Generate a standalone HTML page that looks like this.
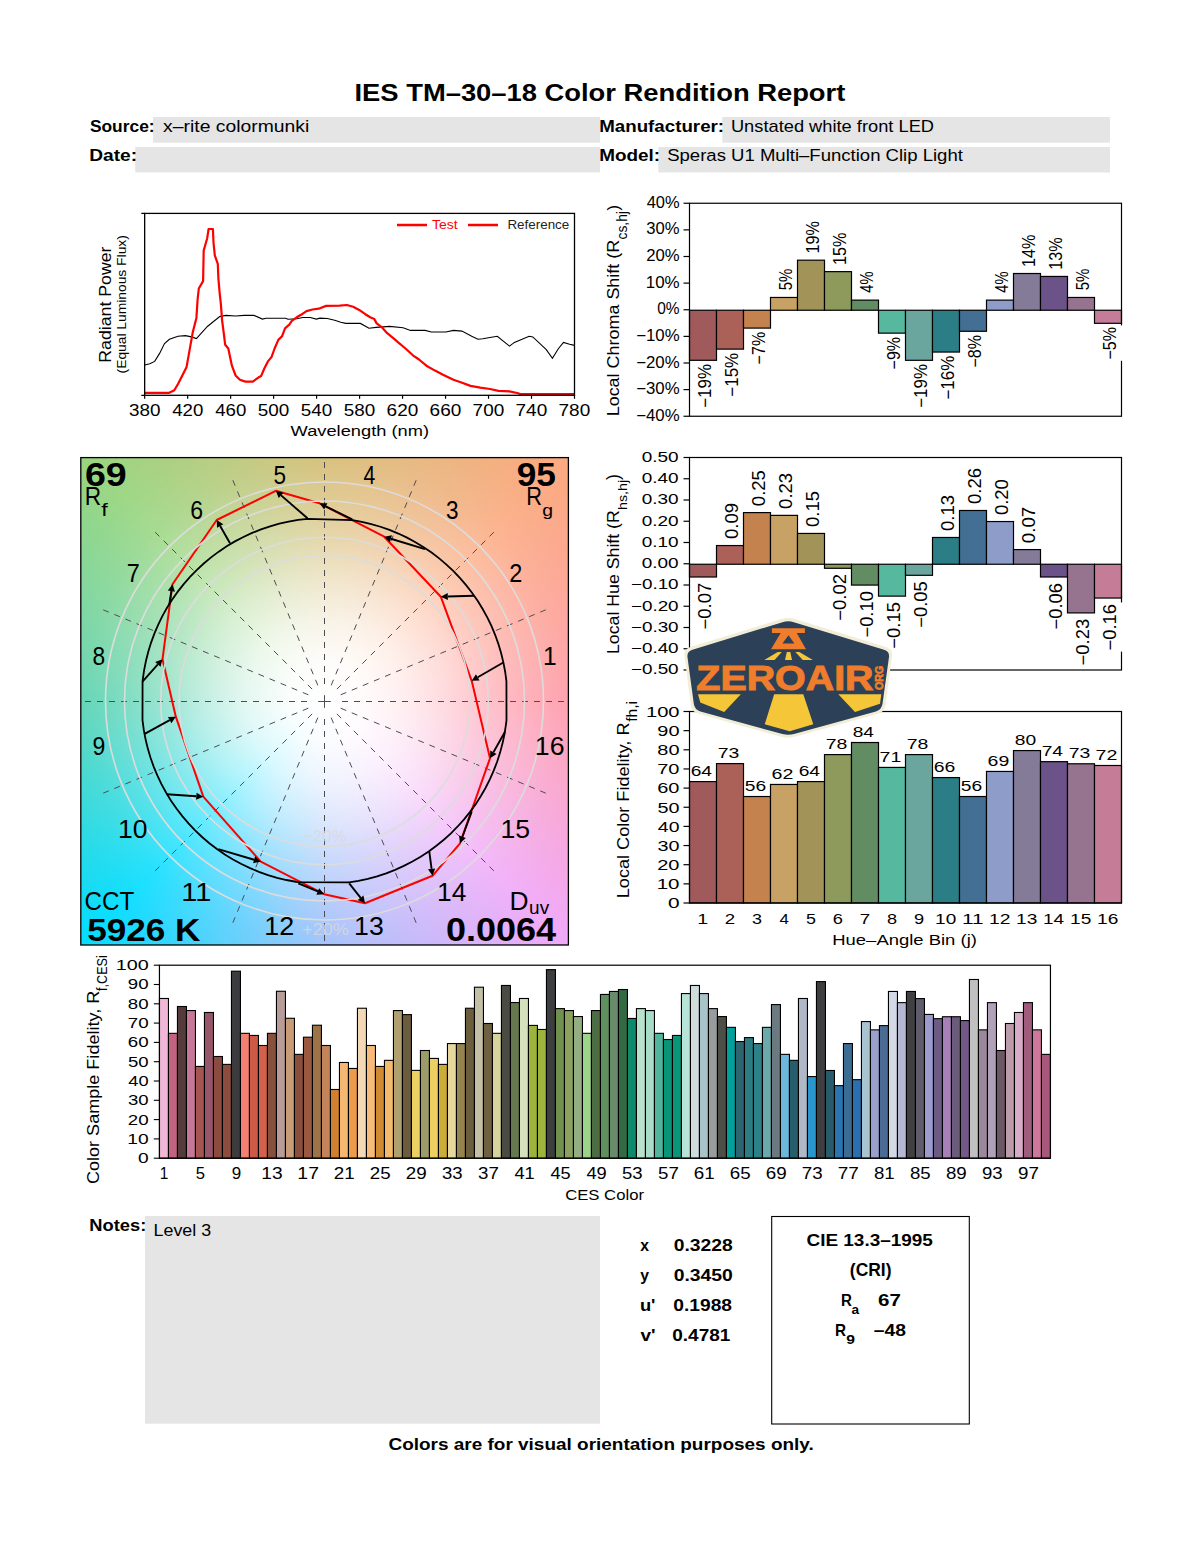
<!DOCTYPE html>
<html><head><meta charset="utf-8"><style>
html,body{margin:0;padding:0;background:#fff;width:1200px;height:1550px;overflow:hidden}
svg{position:absolute;left:0;top:0;font-family:"Liberation Sans",sans-serif}
</style></head><body>
<div style="position:absolute;left:80.8px;top:457.6px;width:487.59999999999997px;height:487.4px;background:radial-gradient(circle at 243.7px 243.39999999999998px, rgba(255,255,255,1) 0px, rgba(255,255,255,0.96) 40px, rgba(255,255,255,0.84) 80px, rgba(255,255,255,0.66) 120px, rgba(255,255,255,0.45) 160px, rgba(255,255,255,0.28) 200px, rgba(255,255,255,0.15) 240px, rgba(255,255,255,0.071) 280px, rgba(255,255,255,0.031) 320px, rgba(255,255,255,0) 370px), conic-gradient(from 90deg at 243.7px 243.39999999999998px, #ff94a3 0deg, #f0a8f8 45deg, #97bafa 90deg, #00dcff 135deg, #4dcfac 180deg, #97d57f 225deg, #d2b86a 270deg, #fba87e 315deg, #ff94a3 360deg);"></div>
<svg width="1200" height="1550" viewBox="0 0 1200 1550">
<text transform="translate(354.52,100.90) scale(1.1022,1)" style="font-size:24.83px;font-weight:bold;" fill="#000" >IES TM–30–18 Color Rendition Report</text>
<rect x="153" y="117" width="447" height="25.7" fill="#e5e5e5"/>
<rect x="135.2" y="147" width="464.8" height="25.5" fill="#e5e5e5"/>
<rect x="722.3" y="117" width="387.7" height="25.7" fill="#e5e5e5"/>
<rect x="658.3" y="147" width="451.7" height="25.5" fill="#e5e5e5"/>
<text transform="translate(89.88,131.90) scale(1.0243,1)" style="font-size:17.00px;font-weight:bold;" fill="#000" >Source:</text>
<text transform="translate(89.16,161.00) scale(1.1101,1)" style="font-size:17.25px;font-weight:bold;" fill="#000" >Date:</text>
<text transform="translate(599.18,131.90) scale(1.1417,1)" style="font-size:16.41px;font-weight:bold;" fill="#000" >Manufacturer:</text>
<text transform="translate(599.17,161.00) scale(1.1528,1)" style="font-size:16.41px;font-weight:bold;" fill="#000" >Model:</text>
<text transform="translate(163.11,131.90) scale(1.1220,1)" style="font-size:17.24px;" fill="#000" >x–rite colormunki</text>
<text transform="translate(730.93,131.90) scale(1.1138,1)" style="font-size:16.41px;" fill="#000" >Unstated white front LED</text>
<text transform="translate(667.17,161.00) scale(1.1304,1)" style="font-size:16.41px;" fill="#000" >Speras U1 Multi–Function Clip Light</text>
<polyline points="144.7,365.0 149.8,363.8 154.7,361.4 159.6,353.4 164.5,343.6 169.4,339.3 178.0,336.3 185.4,335.6 191.5,336.9 196.4,338.5 207.4,326.5 219.7,316.6 225.8,315.4 235.6,316.0 244.2,315.4 254.0,315.4 262.4,319.1 266.0,318.2 285.6,318.2 288.1,319.3 296.7,318.8 302.8,317.5 310.2,317.5 316.3,319.1 320.0,318.1 327.3,318.5 334.7,320.3 340.8,322.2 345.7,323.4 360.4,323.4 369.0,328.3 376.1,327.4 389.6,326.4 403.1,327.7 410.5,330.4 425.2,330.4 431.3,332.0 446.0,332.0 453.4,330.4 461.9,331.1 471.7,336.3 477.9,339.3 482.8,338.7 489.9,337.5 497.3,336.3 509.5,346.1 514.4,342.4 529.1,336.3 532.8,336.9 546.3,349.7 552.4,358.3 558.5,348.5 563.5,342.4 569.6,344.2 574.5,345.4" fill="none" stroke="#000" stroke-width="1.1"/>
<polyline points="144.7,392.9 168.8,392.9 174.3,390.2 178.0,384.0 181.7,376.7 186.6,366.9 189.0,353.4 192.7,332.6 196.4,317.9 197.6,299.5 198.8,288.5 203.1,281.1 203.7,250.5 207.2,238.2 208.6,229.0 212.9,229.0 213.5,242.5 214.8,255.4 217.8,263.9 218.4,278.6 219.7,293.4 220.9,304.4 222.1,320.3 224.0,335.0 225.2,344.8 228.3,348.5 231.9,365.7 235.6,375.5 239.9,379.8 245.4,381.6 252.8,381.6 258.7,377.3 261.1,376.1 264.2,368.7 267.9,361.4 271.5,357.1 274.6,348.5 278.3,339.9 282.0,336.3 285.0,328.3 289.3,324.6 291.8,320.9 296.7,317.3 301.0,314.8 306.5,311.1 312.6,309.5 318.7,308.7 326.1,305.9 339.6,305.6 346.9,305.0 353.1,306.8 359.2,309.9 365.3,314.2 370.2,317.3 374.3,319.1 376.7,323.4 382.3,327.7 387.2,333.2 393.3,338.1 398.2,342.4 405.5,348.5 412.9,355.3 419.0,359.5 426.4,365.7 435.0,370.6 443.5,374.9 453.4,379.8 460.7,382.2 470.5,385.9 480.3,387.7 490.0,389.0 498.5,390.8 509.5,391.4 518.1,393.3 519.9,394.1 574.5,394.1" fill="none" stroke="#f00" stroke-width="2.2" stroke-linejoin="round"/>
<rect x="144.66" y="213.4" width="429.84" height="181.9" fill="none" stroke="#000" stroke-width="1.3"/>
<path d="M141.3,213.4H144.66M141.3,395.3H144.66" stroke="#000" stroke-width="1.3"/>
<path d="M144.66,395.3V398.8" stroke="#000" stroke-width="1.2"/>
<text transform="translate(128.91,415.90) scale(1.1688,1)" style="font-size:16.14px;" fill="#000" >380</text>
<path d="M187.64,395.3V398.8" stroke="#000" stroke-width="1.2"/>
<text transform="translate(172.27,415.90) scale(1.1543,1)" style="font-size:16.14px;" fill="#000" >420</text>
<path d="M230.63,395.3V398.8" stroke="#000" stroke-width="1.2"/>
<text transform="translate(215.26,415.90) scale(1.1543,1)" style="font-size:16.14px;" fill="#000" >460</text>
<path d="M273.61,395.3V398.8" stroke="#000" stroke-width="1.2"/>
<text transform="translate(257.86,415.90) scale(1.1688,1)" style="font-size:16.14px;" fill="#000" >500</text>
<path d="M316.60,395.3V398.8" stroke="#000" stroke-width="1.2"/>
<text transform="translate(300.84,415.90) scale(1.1688,1)" style="font-size:16.14px;" fill="#000" >540</text>
<path d="M359.58,395.3V398.8" stroke="#000" stroke-width="1.2"/>
<text transform="translate(343.83,415.90) scale(1.1688,1)" style="font-size:16.14px;" fill="#000" >580</text>
<path d="M402.56,395.3V398.8" stroke="#000" stroke-width="1.2"/>
<text transform="translate(386.61,415.90) scale(1.1762,1)" style="font-size:16.14px;" fill="#000" >620</text>
<path d="M445.55,395.3V398.8" stroke="#000" stroke-width="1.2"/>
<text transform="translate(429.60,415.90) scale(1.1762,1)" style="font-size:16.14px;" fill="#000" >660</text>
<path d="M488.53,395.3V398.8" stroke="#000" stroke-width="1.2"/>
<text transform="translate(472.58,415.90) scale(1.1762,1)" style="font-size:16.14px;" fill="#000" >700</text>
<path d="M531.52,395.3V398.8" stroke="#000" stroke-width="1.2"/>
<text transform="translate(515.57,415.90) scale(1.1762,1)" style="font-size:16.14px;" fill="#000" >740</text>
<path d="M574.50,395.3V398.8" stroke="#000" stroke-width="1.2"/>
<text transform="translate(558.55,415.90) scale(1.1762,1)" style="font-size:16.14px;" fill="#000" >780</text>
<text transform="translate(290.61,436.00) scale(1.2050,1)" style="font-size:15.17px;" fill="#000" >Wavelength (nm)</text>
<text transform="translate(110.60,362.72) rotate(-90) scale(1.0199,1)" style="font-size:17.38px;" fill="#000" >Radiant Power</text>
<text transform="translate(126.00,373.43) rotate(-90) scale(1.1154,1)" style="font-size:12.41px;" fill="#000" >(Equal Luminous Flux)</text>
<path d="M397,225H427M468,225H498" stroke="#f00" stroke-width="2.6"/>
<text transform="translate(432.02,228.80) scale(1.0990,1)" style="font-size:12.75px;" fill="#f00" >Test</text>
<text transform="translate(507.43,228.80) scale(1.1046,1)" style="font-size:12.14px;" fill="#222" >Reference</text>
<rect x="689.50" y="310.25" width="27.0" height="50.06" fill="#a05a5c" stroke="#000" stroke-width="1.2"/>
<rect x="716.50" y="310.25" width="27.0" height="38.87" fill="#ab6058" stroke="#000" stroke-width="1.2"/>
<rect x="743.50" y="310.25" width="27.0" height="17.84" fill="#c4824e" stroke="#000" stroke-width="1.2"/>
<rect x="770.50" y="297.47" width="27.0" height="12.78" fill="#c8a264" stroke="#000" stroke-width="1.2"/>
<rect x="797.50" y="260.19" width="27.0" height="50.06" fill="#a29458" stroke="#000" stroke-width="1.2"/>
<rect x="824.50" y="271.64" width="27.0" height="38.61" fill="#8d9a5c" stroke="#000" stroke-width="1.2"/>
<rect x="851.50" y="300.13" width="27.0" height="10.12" fill="#628d62" stroke="#000" stroke-width="1.2"/>
<rect x="878.50" y="310.25" width="27.0" height="22.90" fill="#55b89f" stroke="#000" stroke-width="1.2"/>
<rect x="905.50" y="310.25" width="27.0" height="50.06" fill="#6aa69e" stroke="#000" stroke-width="1.2"/>
<rect x="932.50" y="310.25" width="27.0" height="41.80" fill="#2c7e86" stroke="#000" stroke-width="1.2"/>
<rect x="959.50" y="310.25" width="27.0" height="21.03" fill="#426f93" stroke="#000" stroke-width="1.2"/>
<rect x="986.50" y="300.13" width="27.0" height="10.12" fill="#8e9cc9" stroke="#000" stroke-width="1.2"/>
<rect x="1013.50" y="273.51" width="27.0" height="36.74" fill="#847b98" stroke="#000" stroke-width="1.2"/>
<rect x="1040.50" y="276.44" width="27.0" height="33.81" fill="#6b5289" stroke="#000" stroke-width="1.2"/>
<rect x="1067.50" y="297.47" width="27.0" height="12.78" fill="#96748f" stroke="#000" stroke-width="1.2"/>
<rect x="1094.50" y="310.25" width="27.0" height="13.05" fill="#c57c97" stroke="#000" stroke-width="1.2"/>
<rect x="689.5" y="203.25" width="432.0" height="213.0" fill="none" stroke="#000" stroke-width="1.2"/>
<path d="M683.5,203.25H689.5" stroke="#000" stroke-width="1.2"/>
<text transform="translate(646.67,207.80) scale(1.0192,1)" style="font-size:16.14px;" fill="#000" >40%</text>
<path d="M683.5,229.88H689.5" stroke="#000" stroke-width="1.2"/>
<text transform="translate(646.34,234.43) scale(1.0298,1)" style="font-size:16.14px;" fill="#000" >30%</text>
<path d="M683.5,256.50H689.5" stroke="#000" stroke-width="1.2"/>
<text transform="translate(646.16,261.05) scale(1.0351,1)" style="font-size:16.14px;" fill="#000" >20%</text>
<path d="M683.5,283.12H689.5" stroke="#000" stroke-width="1.2"/>
<text transform="translate(645.73,287.68) scale(1.0488,1)" style="font-size:16.14px;" fill="#000" >10%</text>
<path d="M683.5,309.75H689.5" stroke="#000" stroke-width="1.2"/>
<text transform="translate(657.18,314.30) scale(0.9586,1)" style="font-size:16.14px;" fill="#000" >0%</text>
<path d="M683.5,336.38H689.5" stroke="#000" stroke-width="1.2"/>
<text transform="translate(636.16,340.93) scale(1.0407,1)" style="font-size:16.14px;" fill="#000" >−10%</text>
<path d="M683.5,363.00H689.5" stroke="#000" stroke-width="1.2"/>
<text transform="translate(636.16,367.55) scale(1.0407,1)" style="font-size:16.14px;" fill="#000" >−20%</text>
<path d="M683.5,389.62H689.5" stroke="#000" stroke-width="1.2"/>
<text transform="translate(636.16,394.18) scale(1.0407,1)" style="font-size:16.14px;" fill="#000" >−30%</text>
<path d="M683.5,416.25H689.5" stroke="#000" stroke-width="1.2"/>
<text transform="translate(636.16,420.80) scale(1.0407,1)" style="font-size:16.14px;" fill="#000" >−40%</text>
<text transform="translate(711.35,407.85) rotate(-90) scale(0.9574,1)" style="font-size:17.71px;" fill="#000" >−19%</text>
<text transform="translate(738.35,396.67) rotate(-90) scale(0.9506,1)" style="font-size:17.84px;" fill="#000" >−15%</text>
<text transform="translate(765.35,364.39) rotate(-90) scale(0.8991,1)" style="font-size:17.84px;" fill="#000" >−7%</text>
<text transform="translate(792.35,290.27) rotate(-90) scale(0.8387,1)" style="font-size:17.84px;" fill="#000" >5%</text>
<text transform="translate(819.35,253.61) rotate(-90) scale(0.9170,1)" style="font-size:17.71px;" fill="#000" >19%</text>
<text transform="translate(846.35,265.06) rotate(-90) scale(0.9104,1)" style="font-size:17.84px;" fill="#000" >15%</text>
<text transform="translate(873.35,292.63) rotate(-90) scale(0.8266,1)" style="font-size:17.84px;" fill="#000" >4%</text>
<text transform="translate(900.35,369.45) rotate(-90) scale(0.9055,1)" style="font-size:17.71px;" fill="#000" >−9%</text>
<text transform="translate(927.35,407.85) rotate(-90) scale(0.9574,1)" style="font-size:17.71px;" fill="#000" >−19%</text>
<text transform="translate(954.35,399.60) rotate(-90) scale(0.9574,1)" style="font-size:17.71px;" fill="#000" >−16%</text>
<text transform="translate(981.35,367.59) rotate(-90) scale(0.9055,1)" style="font-size:17.71px;" fill="#000" >−8%</text>
<text transform="translate(1008.35,292.63) rotate(-90) scale(0.8266,1)" style="font-size:17.84px;" fill="#000" >4%</text>
<text transform="translate(1035.35,266.93) rotate(-90) scale(0.9104,1)" style="font-size:17.84px;" fill="#000" >14%</text>
<text transform="translate(1062.35,269.85) rotate(-90) scale(0.9170,1)" style="font-size:17.71px;" fill="#000" >13%</text>
<text transform="translate(1089.35,290.27) rotate(-90) scale(0.8387,1)" style="font-size:17.84px;" fill="#000" >5%</text>
<rect x="1101.15" y="325.40" width="22" height="35.40" fill="#fff"/>
<text transform="translate(1116.35,359.60) rotate(-90) scale(0.8991,1)" style="font-size:17.84px;" fill="#000" >−5%</text>
<text transform="translate(618.80,416.34) rotate(-90) scale(1.1042,1)" style="font-size:16.28px;" fill="#000" >Local Chroma Shift (R</text>
<text transform="translate(627.10,239.45) rotate(-90) scale(0.9902,1)" style="font-size:13.93px;" fill="#000" >cs,hj</text>
<text transform="translate(618.80,210.58) rotate(-90) scale(0.9708,1)" style="font-size:17.10px;" fill="#000" >)</text>
<rect x="689.50" y="564.25" width="27.0" height="12.75" fill="#a05a5c" stroke="#000" stroke-width="1.2"/>
<rect x="716.50" y="545.55" width="27.0" height="18.70" fill="#ab6058" stroke="#000" stroke-width="1.2"/>
<rect x="743.50" y="512.61" width="27.0" height="51.64" fill="#c4824e" stroke="#000" stroke-width="1.2"/>
<rect x="770.50" y="515.38" width="27.0" height="48.88" fill="#c8a264" stroke="#000" stroke-width="1.2"/>
<rect x="797.50" y="533.44" width="27.0" height="30.81" fill="#a29458" stroke="#000" stroke-width="1.2"/>
<rect x="824.50" y="564.25" width="27.0" height="4.04" fill="#8d9a5c" stroke="#000" stroke-width="1.2"/>
<rect x="851.50" y="564.25" width="27.0" height="20.83" fill="#628d62" stroke="#000" stroke-width="1.2"/>
<rect x="878.50" y="564.25" width="27.0" height="31.88" fill="#55b89f" stroke="#000" stroke-width="1.2"/>
<rect x="905.50" y="564.25" width="27.0" height="11.05" fill="#6aa69e" stroke="#000" stroke-width="1.2"/>
<rect x="932.50" y="537.48" width="27.0" height="26.77" fill="#2c7e86" stroke="#000" stroke-width="1.2"/>
<rect x="959.50" y="510.49" width="27.0" height="53.76" fill="#426f93" stroke="#000" stroke-width="1.2"/>
<rect x="986.50" y="521.54" width="27.0" height="42.71" fill="#8e9cc9" stroke="#000" stroke-width="1.2"/>
<rect x="1013.50" y="549.59" width="27.0" height="14.66" fill="#847b98" stroke="#000" stroke-width="1.2"/>
<rect x="1040.50" y="564.25" width="27.0" height="12.75" fill="#6b5289" stroke="#000" stroke-width="1.2"/>
<rect x="1067.50" y="564.25" width="27.0" height="48.66" fill="#96748f" stroke="#000" stroke-width="1.2"/>
<rect x="1094.50" y="564.25" width="27.0" height="33.79" fill="#c57c97" stroke="#000" stroke-width="1.2"/>
<rect x="689.5" y="457.5" width="432.0" height="212.5" fill="none" stroke="#000" stroke-width="1.2"/>
<path d="M683.5,457.50H689.5" stroke="#000" stroke-width="1.2"/>
<text transform="translate(641.74,461.90) scale(1.3423,1)" style="font-size:14.14px;" fill="#000" >0.50</text>
<path d="M683.5,478.75H689.5" stroke="#000" stroke-width="1.2"/>
<text transform="translate(641.74,483.15) scale(1.3423,1)" style="font-size:14.14px;" fill="#000" >0.40</text>
<path d="M683.5,500.00H689.5" stroke="#000" stroke-width="1.2"/>
<text transform="translate(641.74,504.40) scale(1.3423,1)" style="font-size:14.14px;" fill="#000" >0.30</text>
<path d="M683.5,521.25H689.5" stroke="#000" stroke-width="1.2"/>
<text transform="translate(641.74,525.65) scale(1.3423,1)" style="font-size:14.14px;" fill="#000" >0.20</text>
<path d="M683.5,542.50H689.5" stroke="#000" stroke-width="1.2"/>
<text transform="translate(641.74,546.90) scale(1.3423,1)" style="font-size:14.14px;" fill="#000" >0.10</text>
<path d="M683.5,563.75H689.5" stroke="#000" stroke-width="1.2"/>
<text transform="translate(641.74,568.15) scale(1.3423,1)" style="font-size:14.14px;" fill="#000" >0.00</text>
<path d="M683.5,585.00H689.5" stroke="#000" stroke-width="1.2"/>
<text transform="translate(630.86,589.40) scale(1.3361,1)" style="font-size:14.14px;" fill="#000" >−0.10</text>
<path d="M683.5,606.25H689.5" stroke="#000" stroke-width="1.2"/>
<text transform="translate(630.86,610.65) scale(1.3361,1)" style="font-size:14.14px;" fill="#000" >−0.20</text>
<path d="M683.5,627.50H689.5" stroke="#000" stroke-width="1.2"/>
<text transform="translate(630.86,631.90) scale(1.3361,1)" style="font-size:14.14px;" fill="#000" >−0.30</text>
<path d="M683.5,648.75H689.5" stroke="#000" stroke-width="1.2"/>
<text transform="translate(630.86,653.15) scale(1.3361,1)" style="font-size:14.14px;" fill="#000" >−0.40</text>
<path d="M683.5,670.00H689.5" stroke="#000" stroke-width="1.2"/>
<text transform="translate(630.86,674.40) scale(1.3361,1)" style="font-size:14.14px;" fill="#000" >−0.50</text>
<text transform="translate(711.35,629.53) rotate(-90) scale(1.0454,1)" style="font-size:17.71px;" fill="#000" >−0.07</text>
<text transform="translate(738.35,539.09) rotate(-90) scale(1.0501,1)" style="font-size:17.71px;" fill="#000" >0.09</text>
<text transform="translate(765.35,506.15) rotate(-90) scale(1.0473,1)" style="font-size:17.71px;" fill="#000" >0.25</text>
<text transform="translate(792.35,508.92) rotate(-90) scale(1.0473,1)" style="font-size:17.71px;" fill="#000" >0.23</text>
<text transform="translate(819.35,526.98) rotate(-90) scale(1.0473,1)" style="font-size:17.71px;" fill="#000" >0.15</text>
<text transform="translate(846.35,620.81) rotate(-90) scale(1.0454,1)" style="font-size:17.71px;" fill="#000" >−0.02</text>
<text transform="translate(873.35,637.60) rotate(-90) scale(1.0390,1)" style="font-size:17.71px;" fill="#000" >−0.10</text>
<text transform="translate(900.35,648.65) rotate(-90) scale(1.0411,1)" style="font-size:17.71px;" fill="#000" >−0.15</text>
<text transform="translate(927.35,627.82) rotate(-90) scale(1.0411,1)" style="font-size:17.71px;" fill="#000" >−0.05</text>
<text transform="translate(954.35,531.02) rotate(-90) scale(1.0473,1)" style="font-size:17.71px;" fill="#000" >0.13</text>
<text transform="translate(981.35,504.03) rotate(-90) scale(1.0473,1)" style="font-size:17.71px;" fill="#000" >0.26</text>
<text transform="translate(1008.35,515.08) rotate(-90) scale(1.0445,1)" style="font-size:17.71px;" fill="#000" >0.20</text>
<text transform="translate(1035.35,543.13) rotate(-90) scale(1.0530,1)" style="font-size:17.71px;" fill="#000" >0.07</text>
<text transform="translate(1062.35,629.52) rotate(-90) scale(1.0411,1)" style="font-size:17.71px;" fill="#000" >−0.06</text>
<text transform="translate(1089.35,665.43) rotate(-90) scale(1.0411,1)" style="font-size:17.71px;" fill="#000" >−0.23</text>
<rect x="1101.15" y="602.44" width="22" height="49.20" fill="#fff"/>
<text transform="translate(1116.35,650.56) rotate(-90) scale(1.0411,1)" style="font-size:17.71px;" fill="#000" >−0.16</text>
<text transform="translate(619.00,654.02) rotate(-90) scale(1.0715,1)" style="font-size:16.55px;" fill="#000" >Local Hue Shift (R</text>
<text transform="translate(626.90,509.89) rotate(-90) scale(1.0382,1)" style="font-size:13.66px;" fill="#000" >hs,hj</text>
<text transform="translate(619.00,479.99) rotate(-90) scale(0.9832,1)" style="font-size:17.66px;" fill="#000" >)</text>
<rect x="689.50" y="781.59" width="27.0" height="121.41" fill="#a05a5c" stroke="#000" stroke-width="1.2"/>
<rect x="716.50" y="763.59" width="27.0" height="139.41" fill="#ab6058" stroke="#000" stroke-width="1.2"/>
<rect x="743.50" y="796.53" width="27.0" height="106.47" fill="#c4824e" stroke="#000" stroke-width="1.2"/>
<rect x="770.50" y="784.46" width="27.0" height="118.54" fill="#c8a264" stroke="#000" stroke-width="1.2"/>
<rect x="797.50" y="781.59" width="27.0" height="121.41" fill="#a29458" stroke="#000" stroke-width="1.2"/>
<rect x="824.50" y="754.59" width="27.0" height="148.41" fill="#8d9a5c" stroke="#000" stroke-width="1.2"/>
<rect x="851.50" y="742.52" width="27.0" height="160.48" fill="#628d62" stroke="#000" stroke-width="1.2"/>
<rect x="878.50" y="767.42" width="27.0" height="135.58" fill="#55b89f" stroke="#000" stroke-width="1.2"/>
<rect x="905.50" y="754.59" width="27.0" height="148.41" fill="#6aa69e" stroke="#000" stroke-width="1.2"/>
<rect x="932.50" y="777.57" width="27.0" height="125.43" fill="#2c7e86" stroke="#000" stroke-width="1.2"/>
<rect x="959.50" y="796.53" width="27.0" height="106.47" fill="#426f93" stroke="#000" stroke-width="1.2"/>
<rect x="986.50" y="771.44" width="27.0" height="131.56" fill="#8e9cc9" stroke="#000" stroke-width="1.2"/>
<rect x="1013.50" y="750.57" width="27.0" height="152.43" fill="#847b98" stroke="#000" stroke-width="1.2"/>
<rect x="1040.50" y="761.67" width="27.0" height="141.33" fill="#6b5289" stroke="#000" stroke-width="1.2"/>
<rect x="1067.50" y="763.78" width="27.0" height="139.22" fill="#96748f" stroke="#000" stroke-width="1.2"/>
<rect x="1094.50" y="765.50" width="27.0" height="137.50" fill="#c57c97" stroke="#000" stroke-width="1.2"/>
<rect x="689.5" y="711.5" width="432.0" height="191.5" fill="none" stroke="#000" stroke-width="1.2"/>
<path d="M683.5,711.50H689.5" stroke="#000" stroke-width="1.2"/>
<text transform="translate(645.99,716.80) scale(1.3147,1)" style="font-size:15.29px;" fill="#000" >100</text>
<path d="M683.5,730.65H689.5" stroke="#000" stroke-width="1.2"/>
<text transform="translate(657.35,735.95) scale(1.3021,1)" style="font-size:15.29px;" fill="#000" >90</text>
<path d="M683.5,749.80H689.5" stroke="#000" stroke-width="1.2"/>
<text transform="translate(657.35,755.10) scale(1.3021,1)" style="font-size:15.29px;" fill="#000" >80</text>
<path d="M683.5,768.95H689.5" stroke="#000" stroke-width="1.2"/>
<text transform="translate(657.25,774.25) scale(1.3084,1)" style="font-size:15.29px;" fill="#000" >70</text>
<path d="M683.5,788.10H689.5" stroke="#000" stroke-width="1.2"/>
<text transform="translate(657.25,793.40) scale(1.3084,1)" style="font-size:15.29px;" fill="#000" >60</text>
<path d="M683.5,807.25H689.5" stroke="#000" stroke-width="1.2"/>
<text transform="translate(657.46,812.55) scale(1.2958,1)" style="font-size:15.29px;" fill="#000" >50</text>
<path d="M683.5,826.40H689.5" stroke="#000" stroke-width="1.2"/>
<text transform="translate(657.86,831.70) scale(1.2712,1)" style="font-size:15.29px;" fill="#000" >40</text>
<path d="M683.5,845.55H689.5" stroke="#000" stroke-width="1.2"/>
<text transform="translate(657.46,850.85) scale(1.2958,1)" style="font-size:15.29px;" fill="#000" >30</text>
<path d="M683.5,864.70H689.5" stroke="#000" stroke-width="1.2"/>
<text transform="translate(657.25,870.00) scale(1.3084,1)" style="font-size:15.29px;" fill="#000" >20</text>
<path d="M683.5,883.85H689.5" stroke="#000" stroke-width="1.2"/>
<text transform="translate(656.71,889.15) scale(1.3411,1)" style="font-size:15.29px;" fill="#000" >10</text>
<path d="M683.5,903.00H689.5" stroke="#000" stroke-width="1.2"/>
<text transform="translate(667.92,908.30) scale(1.3629,1)" style="font-size:15.29px;" fill="#000" >0</text>
<text transform="translate(690.64,775.99) scale(1.2576,1)" style="font-size:15.29px;" fill="#000" >64</text>
<text transform="translate(717.63,757.99) scale(1.2699,1)" style="font-size:15.29px;" fill="#000" >73</text>
<text transform="translate(744.83,790.93) scale(1.2576,1)" style="font-size:15.29px;" fill="#000" >56</text>
<text transform="translate(771.62,778.86) scale(1.2825,1)" style="font-size:15.29px;" fill="#000" >62</text>
<text transform="translate(798.64,775.99) scale(1.2576,1)" style="font-size:15.29px;" fill="#000" >64</text>
<text transform="translate(825.63,748.99) scale(1.2699,1)" style="font-size:15.29px;" fill="#000" >78</text>
<text transform="translate(852.74,736.92) scale(1.2515,1)" style="font-size:15.29px;" fill="#000" >84</text>
<text transform="translate(879.62,761.82) scale(1.2580,1)" style="font-size:15.51px;" fill="#000" >71</text>
<text transform="translate(906.63,748.99) scale(1.2699,1)" style="font-size:15.29px;" fill="#000" >78</text>
<text transform="translate(933.63,771.97) scale(1.2699,1)" style="font-size:15.29px;" fill="#000" >66</text>
<text transform="translate(960.83,790.93) scale(1.2576,1)" style="font-size:15.29px;" fill="#000" >56</text>
<text transform="translate(987.62,765.84) scale(1.2762,1)" style="font-size:15.29px;" fill="#000" >69</text>
<text transform="translate(1014.73,744.97) scale(1.2576,1)" style="font-size:15.29px;" fill="#000" >80</text>
<text transform="translate(1041.64,756.07) scale(1.2396,1)" style="font-size:15.51px;" fill="#000" >74</text>
<text transform="translate(1068.63,758.18) scale(1.2699,1)" style="font-size:15.29px;" fill="#000" >73</text>
<text transform="translate(1095.62,759.90) scale(1.2825,1)" style="font-size:15.29px;" fill="#000" >72</text>
<text transform="translate(697.28,923.75) scale(1.2841,1)" style="font-size:15.22px;" fill="#000" >1</text>
<text transform="translate(724.82,923.75) scale(1.2454,1)" style="font-size:15.00px;" fill="#000" >2</text>
<text transform="translate(752.03,923.75) scale(1.1930,1)" style="font-size:15.00px;" fill="#000" >3</text>
<text transform="translate(779.41,923.75) scale(1.1061,1)" style="font-size:15.22px;" fill="#000" >4</text>
<text transform="translate(806.03,923.75) scale(1.1759,1)" style="font-size:15.22px;" fill="#000" >5</text>
<text transform="translate(832.84,923.75) scale(1.2186,1)" style="font-size:15.00px;" fill="#000" >6</text>
<text transform="translate(859.82,923.75) scale(1.2276,1)" style="font-size:15.22px;" fill="#000" >7</text>
<text transform="translate(886.94,923.75) scale(1.2057,1)" style="font-size:15.00px;" fill="#000" >8</text>
<text transform="translate(913.93,923.75) scale(1.2186,1)" style="font-size:15.00px;" fill="#000" >9</text>
<text transform="translate(935.08,923.75) scale(1.2667,1)" style="font-size:15.00px;" fill="#000" >10</text>
<text transform="translate(961.94,923.75) scale(1.3646,1)" style="font-size:15.22px;" fill="#000" >11</text>
<text transform="translate(989.05,923.75) scale(1.2860,1)" style="font-size:15.00px;" fill="#000" >12</text>
<text transform="translate(1016.07,923.75) scale(1.2730,1)" style="font-size:15.00px;" fill="#000" >13</text>
<text transform="translate(1043.08,923.75) scale(1.2424,1)" style="font-size:15.22px;" fill="#000" >14</text>
<text transform="translate(1070.07,923.75) scale(1.2548,1)" style="font-size:15.22px;" fill="#000" >15</text>
<text transform="translate(1097.07,923.75) scale(1.2730,1)" style="font-size:15.00px;" fill="#000" >16</text>
<text transform="translate(832.27,945.00) scale(1.1892,1)" style="font-size:15.52px;" fill="#000" >Hue–Angle Bin (j)</text>
<text transform="translate(628.90,898.25) rotate(-90) scale(1.1326,1)" style="font-size:16.00px;" fill="#000" >Local Color Fidelity, R</text>
<text transform="translate(636.60,721.73) rotate(-90) scale(1.1198,1)" style="font-size:13.93px;" fill="#000" >fh,i</text>
<rect x="80.8" y="457.6" width="487.59999999999997" height="487.4" fill="none" stroke="#000" stroke-width="1.3"/>
<line x1="342.00" y1="701.50" x2="565.50" y2="701.50" stroke="#4f4b53" stroke-width="1.0" stroke-dasharray="6 6"/>
<line x1="340.67" y1="694.80" x2="547.15" y2="609.27" stroke="#4f4b53" stroke-width="1.0" stroke-dasharray="6 6"/>
<line x1="336.87" y1="689.13" x2="494.91" y2="531.09" stroke="#4f4b53" stroke-width="1.0" stroke-dasharray="6 6"/>
<line x1="331.20" y1="685.33" x2="416.73" y2="478.85" stroke="#4f4b53" stroke-width="1.0" stroke-dasharray="6 6"/>
<line x1="324.50" y1="684.00" x2="324.50" y2="460.50" stroke="#4f4b53" stroke-width="1.0" stroke-dasharray="6 6"/>
<line x1="317.80" y1="685.33" x2="232.27" y2="478.85" stroke="#4f4b53" stroke-width="1.0" stroke-dasharray="6 6"/>
<line x1="312.13" y1="689.13" x2="154.09" y2="531.09" stroke="#4f4b53" stroke-width="1.0" stroke-dasharray="6 6"/>
<line x1="308.33" y1="694.80" x2="101.85" y2="609.27" stroke="#4f4b53" stroke-width="1.0" stroke-dasharray="6 6"/>
<line x1="307.00" y1="701.50" x2="83.50" y2="701.50" stroke="#4f4b53" stroke-width="1.0" stroke-dasharray="6 6"/>
<line x1="308.33" y1="708.20" x2="101.85" y2="793.73" stroke="#4f4b53" stroke-width="1.0" stroke-dasharray="6 6"/>
<line x1="312.13" y1="713.87" x2="154.09" y2="871.91" stroke="#4f4b53" stroke-width="1.0" stroke-dasharray="6 6"/>
<line x1="317.80" y1="717.67" x2="232.27" y2="924.15" stroke="#4f4b53" stroke-width="1.0" stroke-dasharray="6 6"/>
<line x1="324.50" y1="719.00" x2="324.50" y2="942.50" stroke="#4f4b53" stroke-width="1.0" stroke-dasharray="6 6"/>
<line x1="331.20" y1="717.67" x2="416.73" y2="924.15" stroke="#4f4b53" stroke-width="1.0" stroke-dasharray="6 6"/>
<line x1="336.87" y1="713.87" x2="494.91" y2="871.91" stroke="#4f4b53" stroke-width="1.0" stroke-dasharray="6 6"/>
<line x1="340.67" y1="708.20" x2="547.15" y2="793.73" stroke="#4f4b53" stroke-width="1.0" stroke-dasharray="6 6"/>
<path d="M318.2,701.5H330.8M324.5,695.2V707.8" stroke="#4f4b53" stroke-width="1.0"/>
<polygon points="471.7,680.8 440.8,596.7 384.2,536.7 319.5,503.3 275.8,490.8 216.7,520 172.5,584.2 162.5,659.2 175.8,716.7 203.3,796.7 260.8,861.7 324.2,894.2 365,903.3 432.5,875.8 460,843.3 490,758.3" fill="none" stroke="#f00" stroke-width="2.0" stroke-linejoin="round"/>
<circle cx="324.5" cy="701.0" r="145.5" fill="none" stroke="#dcdcdc" stroke-width="1.6"/>
<circle cx="324.5" cy="701.0" r="163.8" fill="none" stroke="#dcdcdc" stroke-width="1.6"/>
<circle cx="324.5" cy="701.0" r="200" fill="none" stroke="#dcdcdc" stroke-width="1.6"/>
<circle cx="324.5" cy="701.0" r="219" fill="none" stroke="#dcdcdc" stroke-width="1.6"/>
<polygon points="506.50,720.13 506.43,681.24 505.15,671.74 503.37,662.33 501.10,653.02 498.34,643.84 495.12,634.82 491.42,625.98 487.26,617.35 482.66,608.95 477.63,600.80 472.17,592.92 466.31,585.34 460.07,578.08 453.45,571.15 446.48,564.58 439.17,558.38 431.55,552.58 423.63,547.18 415.45,542.20 407.01,537.66 398.35,533.56 389.48,529.93 380.44,526.76 371.25,524.07 361.92,521.87 352.50,520.15 352.18,520.11 307.60,518.78 298.08,519.92 288.64,521.55 279.30,523.67 270.08,526.28 261.01,529.37 252.12,532.92 243.42,536.94 234.94,541.41 226.71,546.32 218.75,551.65 211.08,557.39 203.72,563.52 196.69,570.03 190.01,576.90 183.70,584.11 177.78,591.63 172.25,599.46 167.15,607.57 162.47,615.93 158.24,624.53 154.47,633.34 151.16,642.33 148.33,651.48 145.98,660.77 144.12,670.17 142.75,679.65 142.57,681.24 142.50,720.13 143.75,729.63 145.50,739.05 147.74,748.36 150.46,757.55 153.65,766.58 157.32,775.43 161.45,784.08 166.02,792.50 171.02,800.67 176.45,808.56 182.28,816.17 188.50,823.45 195.10,830.40 202.05,837.00 209.33,843.22 216.94,849.05 224.83,854.48 233.00,859.48 241.42,864.05 250.07,868.18 258.92,871.85 267.95,875.04 277.14,877.76 286.45,880.00 295.87,881.75 298.40,882.13 349.02,882.35 358.48,880.82 367.84,878.79 377.09,876.28 386.19,873.29 395.12,869.82 403.86,865.90 412.38,861.52 420.66,856.70 428.68,851.45 436.41,845.79 443.83,839.74 450.93,833.30 457.68,826.50 464.07,819.36 470.07,811.90 475.68,804.13 480.87,796.07 485.63,787.76 489.95,779.21 493.81,770.44 497.22,761.48 500.14,752.36 502.59,743.10 504.55,733.72 506.02,724.25" fill="none" stroke="#000" stroke-width="1.8"/>
<line x1="503.3" y1="662.5" x2="477.76" y2="677.29" stroke="#000" stroke-width="1.9"/>
<polygon points="471.7,680.8 475.95,674.18 479.56,680.41" fill="#000"/>
<line x1="474.2" y1="595.8" x2="447.80" y2="596.51" stroke="#000" stroke-width="1.9"/>
<polygon points="440.8,596.7 447.70,592.91 447.89,600.11" fill="#000"/>
<line x1="425" y1="549.2" x2="390.89" y2="538.75" stroke="#000" stroke-width="1.9"/>
<polygon points="384.2,536.7 391.95,535.31 389.84,542.19" fill="#000"/>
<line x1="352.2" y1="519.4" x2="325.78" y2="506.39" stroke="#000" stroke-width="1.9"/>
<polygon points="319.5,503.3 327.37,503.16 324.19,509.62" fill="#000"/>
<line x1="307.5" y1="518.3" x2="281.09" y2="495.39" stroke="#000" stroke-width="1.9"/>
<polygon points="275.8,490.8 283.45,492.67 278.73,498.11" fill="#000"/>
<line x1="230" y1="543.3" x2="220.17" y2="526.08" stroke="#000" stroke-width="1.9"/>
<polygon points="216.7,520 223.30,524.29 217.04,527.86" fill="#000"/>
<line x1="169.2" y1="605" x2="171.40" y2="591.11" stroke="#000" stroke-width="1.9"/>
<polygon points="172.5,584.2 174.96,591.68 167.85,590.55" fill="#000"/>
<line x1="142.5" y1="681.7" x2="157.85" y2="664.43" stroke="#000" stroke-width="1.9"/>
<polygon points="162.5,659.2 160.54,666.82 155.16,662.04" fill="#000"/>
<line x1="144.2" y1="734.2" x2="169.68" y2="720.09" stroke="#000" stroke-width="1.9"/>
<polygon points="175.8,716.7 171.42,723.24 167.93,716.94" fill="#000"/>
<line x1="166.7" y1="794.2" x2="196.32" y2="796.22" stroke="#000" stroke-width="1.9"/>
<polygon points="203.3,796.7 196.07,799.81 196.56,792.63" fill="#000"/>
<line x1="218.3" y1="849.2" x2="254.08" y2="859.72" stroke="#000" stroke-width="1.9"/>
<polygon points="260.8,861.7 253.07,863.18 255.10,856.27" fill="#000"/>
<line x1="298.3" y1="883.3" x2="317.75" y2="891.48" stroke="#000" stroke-width="1.9"/>
<polygon points="324.2,894.2 316.35,894.80 319.14,888.17" fill="#000"/>
<line x1="349.2" y1="883.3" x2="360.66" y2="897.81" stroke="#000" stroke-width="1.9"/>
<polygon points="365,903.3 357.84,900.04 363.49,895.58" fill="#000"/>
<line x1="429.2" y1="850.8" x2="431.58" y2="868.86" stroke="#000" stroke-width="1.9"/>
<polygon points="432.5,875.8 428.01,869.33 435.15,868.39" fill="#000"/>
<line x1="471.7" y1="811.7" x2="462.43" y2="836.74" stroke="#000" stroke-width="1.9"/>
<polygon points="460,843.3 459.05,835.49 465.81,837.99" fill="#000"/>
<line x1="505" y1="731.7" x2="493.44" y2="752.20" stroke="#000" stroke-width="1.9"/>
<polygon points="490,758.3 490.30,750.43 496.57,753.97" fill="#000"/>
<text transform="translate(542.89,664.88) scale(0.9699,1)" style="font-size:25.36px;" fill="#000" >1</text>
<text transform="translate(509.21,581.97) scale(0.9407,1)" style="font-size:25.00px;" fill="#000" >2</text>
<text transform="translate(446.03,518.51) scale(0.9011,1)" style="font-size:25.00px;" fill="#000" >3</text>
<text transform="translate(363.60,484.17) scale(0.8354,1)" style="font-size:25.36px;" fill="#000" >4</text>
<text transform="translate(273.38,484.17) scale(0.8882,1)" style="font-size:25.36px;" fill="#000" >5</text>
<text transform="translate(190.22,518.51) scale(0.9204,1)" style="font-size:25.00px;" fill="#000" >6</text>
<text transform="translate(126.74,581.97) scale(0.9272,1)" style="font-size:25.36px;" fill="#000" >7</text>
<text transform="translate(92.54,664.88) scale(0.9106,1)" style="font-size:25.00px;" fill="#000" >8</text>
<text transform="translate(92.53,754.62) scale(0.9204,1)" style="font-size:25.00px;" fill="#000" >9</text>
<text transform="translate(118.02,837.53) scale(1.0600,1)" style="font-size:25.00px;" fill="#000" >10</text>
<text transform="translate(181.30,900.99) scale(1.1419,1)" style="font-size:25.36px;" fill="#000" >11</text>
<text transform="translate(264.36,935.33) scale(1.0761,1)" style="font-size:25.00px;" fill="#000" >12</text>
<text transform="translate(354.12,935.33) scale(1.0653,1)" style="font-size:25.00px;" fill="#000" >13</text>
<text transform="translate(437.05,900.99) scale(1.0397,1)" style="font-size:25.36px;" fill="#000" >14</text>
<text transform="translate(500.49,837.53) scale(1.0501,1)" style="font-size:25.36px;" fill="#000" >15</text>
<text transform="translate(534.83,754.62) scale(1.0653,1)" style="font-size:25.00px;" fill="#000" >16</text>
<text transform="translate(84.88,485.70) scale(1.1058,1)" style="font-size:34.00px;font-weight:bold;" fill="#000" >69</text>
<text transform="translate(84.68,504.80) scale(0.8946,1)" style="font-size:25.36px;" fill="#000" >R</text>
<text transform="translate(101.25,515.70) scale(1.3098,1)" style="font-size:17.86px;" fill="#000" >f</text>
<text transform="translate(516.77,485.70) scale(1.0541,1)" style="font-size:33.43px;font-weight:bold;" fill="#000" >95</text>
<text transform="translate(526.25,504.90) scale(0.8664,1)" style="font-size:25.22px;" fill="#000" >R</text>
<text transform="translate(542.23,515.75) scale(1.1431,1)" style="font-size:16.91px;" fill="#000" >g</text>
<text transform="translate(84.59,909.75) scale(0.9095,1)" style="font-size:26.64px;" fill="#000" >CCT</text>
<text transform="translate(87.15,941.25) scale(1.1113,1)" style="font-size:31.64px;font-weight:bold;" fill="#000" >5926 K</text>
<text transform="translate(509.59,910.10) scale(1.0200,1)" style="font-size:25.87px;" fill="#000" >D</text>
<text transform="translate(529.07,914.40) scale(1.0164,1)" style="font-size:18.68px;" fill="#000" >uv</text>
<text transform="translate(446.06,941.25) scale(1.1073,1)" style="font-size:32.50px;font-weight:bold;" fill="#000" >0.0064</text>
<text transform="translate(303.06,841.60) scale(1.0051,1)" style="font-size:16.71px;" fill="#d9d9d9" fill-opacity="0.75">−20%</text>
<text transform="translate(302.10,934.70) scale(1.0725,1)" style="font-size:16.86px;" fill="#d9d9d9" fill-opacity="0.8">+20%</text>
<path d="M781.51,619.05Q788.20,617.00 794.89,619.05L886.21,646.95Q892.90,649.00 891.99,655.94L885.51,705.06Q884.60,712.00 877.85,713.86L794.95,736.74Q788.20,738.60 781.45,736.74L698.45,713.86Q691.70,712.00 690.81,705.06L684.49,655.94Q683.60,649.00 690.29,646.95Z" fill="#f2edd6" />
<path d="M782.46,622.15Q788.20,620.40 793.94,622.15L884.06,649.65Q889.80,651.40 888.98,657.34L882.52,703.86Q881.70,709.80 875.92,711.40L793.98,734.00Q788.20,735.60 782.42,734.01L700.38,711.39Q694.60,709.80 693.80,703.85L687.50,657.35Q686.70,651.40 692.44,649.65Z" fill="#2c4158" />
<path d="M771.9,628.2H804.9V633.1H796.7L806,649.2H771L780.7,633.1H771.9Z M788.5,635.2L782.4,643.6H794.4Z" fill="#ef7d2b" fill-rule="evenodd"/>
<polygon points="764.30,660.00 774.50,660.00 781.80,652.00 777.75,652.00" fill="#f5c637" />
<polygon points="785.00,660.00 792.00,660.00 790.30,652.00 786.80,652.00" fill="#f5c637" />
<polygon points="802.80,660.00 812.80,660.00 799.30,652.00 795.30,652.00" fill="#f5c637" />
<polygon points="698.00,694.20 740.80,694.20 724.20,712.00 700.30,702.50" fill="#f5c637" />
<polygon points="774.20,694.20 803.30,694.20 813.30,724.20 789.70,731.30 764.70,724.20" fill="#f5c637" />
<polygon points="838.30,694.20 881.30,694.20 880.00,703.70 855.00,712.00" fill="#f5c637" />
<text transform="translate(696.32,689.50) scale(1.1490,1)" style="font-size:34.29px;font-weight:bold;" fill="#ef7d2b" stroke="#ef7d2b" stroke-width="1.0">ZEROAIR</text>
<text transform="translate(883.30,690.03) rotate(-90) scale(0.9909,1)" style="font-size:10.86px;font-weight:bold;" fill="#ef7d2b" stroke="#ef7d2b" stroke-width="0.7">ORG</text>
<rect x="159.45" y="998.49" width="9.0" height="159.71" fill="#f0b8d6" stroke="#000" stroke-width="1.1"/>
<rect x="168.45" y="1033.33" width="9.0" height="124.87" fill="#c46282" stroke="#000" stroke-width="1.1"/>
<rect x="177.45" y="1006.50" width="9.0" height="151.70" fill="#553b3b" stroke="#000" stroke-width="1.1"/>
<rect x="186.45" y="1010.56" width="9.0" height="147.64" fill="#c77898" stroke="#000" stroke-width="1.1"/>
<rect x="195.45" y="1066.43" width="9.0" height="91.77" fill="#a65652" stroke="#000" stroke-width="1.1"/>
<rect x="204.45" y="1012.49" width="9.0" height="145.72" fill="#97566a" stroke="#000" stroke-width="1.1"/>
<rect x="213.45" y="1056.49" width="9.0" height="101.71" fill="#8b4b3e" stroke="#000" stroke-width="1.1"/>
<rect x="222.45" y="1064.40" width="9.0" height="93.80" fill="#8c4c3e" stroke="#000" stroke-width="1.1"/>
<rect x="231.45" y="971.18" width="9.0" height="187.02" fill="#3c3c3e" stroke="#000" stroke-width="1.1"/>
<rect x="240.45" y="1033.33" width="9.0" height="124.87" fill="#f38072" stroke="#000" stroke-width="1.1"/>
<rect x="249.45" y="1035.45" width="9.0" height="122.75" fill="#cc5a46" stroke="#000" stroke-width="1.1"/>
<rect x="258.45" y="1045.49" width="9.0" height="112.71" fill="#d2604a" stroke="#000" stroke-width="1.1"/>
<rect x="267.45" y="1033.33" width="9.0" height="124.87" fill="#86503c" stroke="#000" stroke-width="1.1"/>
<rect x="276.45" y="991.26" width="9.0" height="166.94" fill="#b89c9a" stroke="#000" stroke-width="1.1"/>
<rect x="285.45" y="1018.28" width="9.0" height="139.92" fill="#c99c78" stroke="#000" stroke-width="1.1"/>
<rect x="294.45" y="1054.37" width="9.0" height="103.83" fill="#8a4e3c" stroke="#000" stroke-width="1.1"/>
<rect x="303.45" y="1037.19" width="9.0" height="121.01" fill="#9a5a42" stroke="#000" stroke-width="1.1"/>
<rect x="312.45" y="1025.22" width="9.0" height="132.98" fill="#9c7448" stroke="#000" stroke-width="1.1"/>
<rect x="321.45" y="1045.49" width="9.0" height="112.71" fill="#c4845a" stroke="#000" stroke-width="1.1"/>
<rect x="330.45" y="1089.49" width="9.0" height="68.71" fill="#cf8030" stroke="#000" stroke-width="1.1"/>
<rect x="339.45" y="1062.47" width="9.0" height="95.73" fill="#f5b870" stroke="#000" stroke-width="1.1"/>
<rect x="348.45" y="1068.46" width="9.0" height="89.74" fill="#ec9a4c" stroke="#000" stroke-width="1.1"/>
<rect x="357.45" y="1008.24" width="9.0" height="149.96" fill="#f2d8b4" stroke="#000" stroke-width="1.1"/>
<rect x="366.45" y="1045.49" width="9.0" height="112.71" fill="#f6bb78" stroke="#000" stroke-width="1.1"/>
<rect x="375.45" y="1066.43" width="9.0" height="91.77" fill="#d08a30" stroke="#000" stroke-width="1.1"/>
<rect x="384.45" y="1060.35" width="9.0" height="97.85" fill="#f5bb6c" stroke="#000" stroke-width="1.1"/>
<rect x="393.45" y="1010.56" width="9.0" height="147.64" fill="#b0a070" stroke="#000" stroke-width="1.1"/>
<rect x="402.45" y="1014.61" width="9.0" height="143.59" fill="#6a5c3c" stroke="#000" stroke-width="1.1"/>
<rect x="411.45" y="1070.38" width="9.0" height="87.82" fill="#ecd064" stroke="#000" stroke-width="1.1"/>
<rect x="420.45" y="1050.51" width="9.0" height="107.69" fill="#9c9c6a" stroke="#000" stroke-width="1.1"/>
<rect x="429.45" y="1058.42" width="9.0" height="99.78" fill="#ecd062" stroke="#000" stroke-width="1.1"/>
<rect x="438.45" y="1064.40" width="9.0" height="93.80" fill="#ccac38" stroke="#000" stroke-width="1.1"/>
<rect x="447.45" y="1043.56" width="9.0" height="114.64" fill="#e6d89c" stroke="#000" stroke-width="1.1"/>
<rect x="456.45" y="1043.56" width="9.0" height="114.64" fill="#968450" stroke="#000" stroke-width="1.1"/>
<rect x="465.45" y="1008.24" width="9.0" height="149.96" fill="#6a5e3c" stroke="#000" stroke-width="1.1"/>
<rect x="474.45" y="987.20" width="9.0" height="171.00" fill="#c4c0a8" stroke="#000" stroke-width="1.1"/>
<rect x="483.45" y="1023.49" width="9.0" height="134.71" fill="#6e6040" stroke="#000" stroke-width="1.1"/>
<rect x="492.45" y="1033.33" width="9.0" height="124.87" fill="#d6d49c" stroke="#000" stroke-width="1.1"/>
<rect x="501.45" y="985.47" width="9.0" height="172.74" fill="#4a4c44" stroke="#000" stroke-width="1.1"/>
<rect x="510.45" y="1002.55" width="9.0" height="155.65" fill="#66784e" stroke="#000" stroke-width="1.1"/>
<rect x="519.45" y="998.49" width="9.0" height="159.71" fill="#d6e0bc" stroke="#000" stroke-width="1.1"/>
<rect x="528.45" y="1025.42" width="9.0" height="132.78" fill="#9cb43c" stroke="#000" stroke-width="1.1"/>
<rect x="537.45" y="1029.47" width="9.0" height="128.73" fill="#9cb43c" stroke="#000" stroke-width="1.1"/>
<rect x="546.45" y="969.64" width="9.0" height="188.56" fill="#3c3e40" stroke="#000" stroke-width="1.1"/>
<rect x="555.45" y="1008.62" width="9.0" height="149.58" fill="#70924e" stroke="#000" stroke-width="1.1"/>
<rect x="564.45" y="1010.56" width="9.0" height="147.64" fill="#8ca060" stroke="#000" stroke-width="1.1"/>
<rect x="573.45" y="1016.54" width="9.0" height="141.66" fill="#94ae84" stroke="#000" stroke-width="1.1"/>
<rect x="582.45" y="1033.33" width="9.0" height="124.87" fill="#9cd48a" stroke="#000" stroke-width="1.1"/>
<rect x="591.45" y="1010.56" width="9.0" height="147.64" fill="#4e6c44" stroke="#000" stroke-width="1.1"/>
<rect x="600.45" y="994.44" width="9.0" height="163.76" fill="#60905e" stroke="#000" stroke-width="1.1"/>
<rect x="609.45" y="991.45" width="9.0" height="166.75" fill="#6a8a6c" stroke="#000" stroke-width="1.1"/>
<rect x="618.45" y="989.52" width="9.0" height="168.68" fill="#326a44" stroke="#000" stroke-width="1.1"/>
<rect x="627.45" y="1018.47" width="9.0" height="139.73" fill="#0e8a6a" stroke="#000" stroke-width="1.1"/>
<rect x="636.45" y="1008.62" width="9.0" height="149.58" fill="#b8e2cc" stroke="#000" stroke-width="1.1"/>
<rect x="645.45" y="1010.56" width="9.0" height="147.64" fill="#a8dcc8" stroke="#000" stroke-width="1.1"/>
<rect x="654.45" y="1033.33" width="9.0" height="124.87" fill="#52b49c" stroke="#000" stroke-width="1.1"/>
<rect x="663.45" y="1039.51" width="9.0" height="118.69" fill="#0a9478" stroke="#000" stroke-width="1.1"/>
<rect x="672.45" y="1035.45" width="9.0" height="122.75" fill="#0a9478" stroke="#000" stroke-width="1.1"/>
<rect x="681.45" y="993.57" width="9.0" height="164.63" fill="#b8e4d8" stroke="#000" stroke-width="1.1"/>
<rect x="690.45" y="985.47" width="9.0" height="172.74" fill="#d0dcdc" stroke="#000" stroke-width="1.1"/>
<rect x="699.45" y="993.57" width="9.0" height="164.63" fill="#a8c4c8" stroke="#000" stroke-width="1.1"/>
<rect x="708.45" y="1008.62" width="9.0" height="149.58" fill="#989c9c" stroke="#000" stroke-width="1.1"/>
<rect x="717.45" y="1016.54" width="9.0" height="141.66" fill="#4c4e48" stroke="#000" stroke-width="1.1"/>
<rect x="726.45" y="1027.35" width="9.0" height="130.85" fill="#00a09c" stroke="#000" stroke-width="1.1"/>
<rect x="735.45" y="1041.53" width="9.0" height="116.67" fill="#2c6470" stroke="#000" stroke-width="1.1"/>
<rect x="744.45" y="1037.58" width="9.0" height="120.62" fill="#2c7c84" stroke="#000" stroke-width="1.1"/>
<rect x="753.45" y="1043.56" width="9.0" height="114.64" fill="#2c8088" stroke="#000" stroke-width="1.1"/>
<rect x="762.45" y="1027.35" width="9.0" height="130.85" fill="#6aaaaa" stroke="#000" stroke-width="1.1"/>
<rect x="771.45" y="1004.57" width="9.0" height="153.63" fill="#6a7a80" stroke="#000" stroke-width="1.1"/>
<rect x="780.45" y="1054.37" width="9.0" height="103.83" fill="#6cb8dc" stroke="#000" stroke-width="1.1"/>
<rect x="789.45" y="1060.35" width="9.0" height="97.85" fill="#285e6c" stroke="#000" stroke-width="1.1"/>
<rect x="798.45" y="998.49" width="9.0" height="159.71" fill="#b0b8c8" stroke="#000" stroke-width="1.1"/>
<rect x="807.45" y="1076.56" width="9.0" height="81.64" fill="#2898cc" stroke="#000" stroke-width="1.1"/>
<rect x="816.45" y="981.61" width="9.0" height="176.60" fill="#3c3e40" stroke="#000" stroke-width="1.1"/>
<rect x="825.45" y="1070.48" width="9.0" height="87.72" fill="#285c6c" stroke="#000" stroke-width="1.1"/>
<rect x="834.45" y="1085.63" width="9.0" height="72.57" fill="#2a74b0" stroke="#000" stroke-width="1.1"/>
<rect x="843.45" y="1043.56" width="9.0" height="114.64" fill="#3a6c94" stroke="#000" stroke-width="1.1"/>
<rect x="852.45" y="1079.65" width="9.0" height="78.55" fill="#2a70b0" stroke="#000" stroke-width="1.1"/>
<rect x="861.45" y="1021.56" width="9.0" height="136.64" fill="#a8c4d0" stroke="#000" stroke-width="1.1"/>
<rect x="870.45" y="1029.86" width="9.0" height="128.35" fill="#98a0cc" stroke="#000" stroke-width="1.1"/>
<rect x="879.45" y="1025.61" width="9.0" height="132.59" fill="#4a6c94" stroke="#000" stroke-width="1.1"/>
<rect x="888.45" y="991.45" width="9.0" height="166.75" fill="#d4d8e4" stroke="#000" stroke-width="1.1"/>
<rect x="897.45" y="1002.64" width="9.0" height="155.56" fill="#b4b8d4" stroke="#000" stroke-width="1.1"/>
<rect x="906.45" y="991.45" width="9.0" height="166.75" fill="#404042" stroke="#000" stroke-width="1.1"/>
<rect x="915.45" y="998.59" width="9.0" height="159.61" fill="#605c6c" stroke="#000" stroke-width="1.1"/>
<rect x="924.45" y="1014.42" width="9.0" height="143.78" fill="#9c9ccc" stroke="#000" stroke-width="1.1"/>
<rect x="933.45" y="1018.66" width="9.0" height="139.54" fill="#6c5c84" stroke="#000" stroke-width="1.1"/>
<rect x="942.45" y="1016.73" width="9.0" height="141.47" fill="#a880b8" stroke="#000" stroke-width="1.1"/>
<rect x="951.45" y="1016.73" width="9.0" height="141.47" fill="#6c5c7c" stroke="#000" stroke-width="1.1"/>
<rect x="960.45" y="1020.59" width="9.0" height="137.61" fill="#745888" stroke="#000" stroke-width="1.1"/>
<rect x="969.45" y="979.48" width="9.0" height="178.72" fill="#c0c0c0" stroke="#000" stroke-width="1.1"/>
<rect x="978.45" y="1029.86" width="9.0" height="128.35" fill="#9c889c" stroke="#000" stroke-width="1.1"/>
<rect x="987.45" y="1002.64" width="9.0" height="155.56" fill="#b0a0b8" stroke="#000" stroke-width="1.1"/>
<rect x="996.45" y="1050.51" width="9.0" height="107.69" fill="#6c5864" stroke="#000" stroke-width="1.1"/>
<rect x="1005.45" y="1023.49" width="9.0" height="134.71" fill="#bc9ca8" stroke="#000" stroke-width="1.1"/>
<rect x="1014.45" y="1012.49" width="9.0" height="145.72" fill="#d8acc8" stroke="#000" stroke-width="1.1"/>
<rect x="1023.45" y="1002.64" width="9.0" height="155.56" fill="#a05c7c" stroke="#000" stroke-width="1.1"/>
<rect x="1032.45" y="1029.86" width="9.0" height="128.35" fill="#d0789c" stroke="#000" stroke-width="1.1"/>
<rect x="1041.45" y="1054.37" width="9.0" height="103.83" fill="#a8587c" stroke="#000" stroke-width="1.1"/>
<rect x="159.45" y="965.2" width="891.0" height="193.00" fill="none" stroke="#000" stroke-width="1.2"/>
<path d="M153.8,965.20H159.45" stroke="#000" stroke-width="1.1"/>
<text transform="translate(115.72,970.10) scale(1.3820,1)" style="font-size:14.29px;" fill="#000" >100</text>
<path d="M153.8,984.50H159.45" stroke="#000" stroke-width="1.1"/>
<text transform="translate(127.86,989.40) scale(1.3049,1)" style="font-size:14.29px;" fill="#000" >90</text>
<path d="M153.8,1003.80H159.45" stroke="#000" stroke-width="1.1"/>
<text transform="translate(127.86,1008.70) scale(1.3049,1)" style="font-size:14.29px;" fill="#000" >80</text>
<path d="M153.8,1023.10H159.45" stroke="#000" stroke-width="1.1"/>
<text transform="translate(127.76,1028.00) scale(1.3112,1)" style="font-size:14.29px;" fill="#000" >70</text>
<path d="M153.8,1042.40H159.45" stroke="#000" stroke-width="1.1"/>
<text transform="translate(127.76,1047.30) scale(1.3112,1)" style="font-size:14.29px;" fill="#000" >60</text>
<path d="M153.8,1061.70H159.45" stroke="#000" stroke-width="1.1"/>
<text transform="translate(127.96,1066.60) scale(1.2986,1)" style="font-size:14.29px;" fill="#000" >50</text>
<path d="M153.8,1081.00H159.45" stroke="#000" stroke-width="1.1"/>
<text transform="translate(128.34,1085.90) scale(1.2739,1)" style="font-size:14.29px;" fill="#000" >40</text>
<path d="M153.8,1100.30H159.45" stroke="#000" stroke-width="1.1"/>
<text transform="translate(127.96,1105.20) scale(1.2986,1)" style="font-size:14.29px;" fill="#000" >30</text>
<path d="M153.8,1119.60H159.45" stroke="#000" stroke-width="1.1"/>
<text transform="translate(127.76,1124.50) scale(1.3112,1)" style="font-size:14.29px;" fill="#000" >20</text>
<path d="M153.8,1138.90H159.45" stroke="#000" stroke-width="1.1"/>
<text transform="translate(127.26,1143.80) scale(1.3440,1)" style="font-size:14.29px;" fill="#000" >10</text>
<path d="M153.8,1158.20H159.45" stroke="#000" stroke-width="1.1"/>
<text transform="translate(137.93,1163.10) scale(1.3417,1)" style="font-size:14.29px;" fill="#000" >0</text>
<text transform="translate(159.84,1178.90) scale(0.9405,1)" style="font-size:16.38px;" fill="#000" >1</text>
<text transform="translate(195.73,1178.90) scale(1.0156,1)" style="font-size:16.38px;" fill="#000" >5</text>
<text transform="translate(231.64,1178.90) scale(1.0524,1)" style="font-size:16.14px;" fill="#000" >9</text>
<text transform="translate(261.36,1178.90) scale(1.1891,1)" style="font-size:16.14px;" fill="#000" >13</text>
<text transform="translate(297.35,1178.90) scale(1.1840,1)" style="font-size:16.38px;" fill="#000" >17</text>
<text transform="translate(333.86,1178.90) scale(1.1657,1)" style="font-size:16.14px;" fill="#000" >21</text>
<text transform="translate(369.86,1178.90) scale(1.1600,1)" style="font-size:16.14px;" fill="#000" >25</text>
<text transform="translate(405.86,1178.90) scale(1.1657,1)" style="font-size:16.14px;" fill="#000" >29</text>
<text transform="translate(442.06,1178.90) scale(1.1487,1)" style="font-size:16.14px;" fill="#000" >33</text>
<text transform="translate(478.05,1178.90) scale(1.1600,1)" style="font-size:16.14px;" fill="#000" >37</text>
<text transform="translate(514.43,1178.90) scale(1.1161,1)" style="font-size:16.38px;" fill="#000" >41</text>
<text transform="translate(550.44,1178.90) scale(1.1107,1)" style="font-size:16.38px;" fill="#000" >45</text>
<text transform="translate(586.43,1178.90) scale(1.1322,1)" style="font-size:16.14px;" fill="#000" >49</text>
<text transform="translate(622.06,1178.90) scale(1.1487,1)" style="font-size:16.14px;" fill="#000" >53</text>
<text transform="translate(658.05,1178.90) scale(1.1434,1)" style="font-size:16.38px;" fill="#000" >57</text>
<text transform="translate(693.86,1178.90) scale(1.1657,1)" style="font-size:16.14px;" fill="#000" >61</text>
<text transform="translate(729.86,1178.90) scale(1.1600,1)" style="font-size:16.14px;" fill="#000" >65</text>
<text transform="translate(765.86,1178.90) scale(1.1657,1)" style="font-size:16.14px;" fill="#000" >69</text>
<text transform="translate(801.86,1178.90) scale(1.1600,1)" style="font-size:16.14px;" fill="#000" >73</text>
<text transform="translate(837.85,1178.90) scale(1.1547,1)" style="font-size:16.38px;" fill="#000" >77</text>
<text transform="translate(873.96,1178.90) scale(1.1600,1)" style="font-size:16.14px;" fill="#000" >81</text>
<text transform="translate(909.96,1178.90) scale(1.1543,1)" style="font-size:16.14px;" fill="#000" >85</text>
<text transform="translate(945.96,1178.90) scale(1.1600,1)" style="font-size:16.14px;" fill="#000" >89</text>
<text transform="translate(981.96,1178.90) scale(1.1543,1)" style="font-size:16.14px;" fill="#000" >93</text>
<text transform="translate(1017.95,1178.90) scale(1.1657,1)" style="font-size:16.14px;" fill="#000" >97</text>
<text transform="translate(565.17,1199.60) scale(1.0805,1)" style="font-size:15.45px;" fill="#000" >CES Color</text>
<text transform="translate(99.00,1184.10) rotate(-90) scale(1.0737,1)" style="font-size:16.83px;" fill="#000" >Color Sample Fidelity, R</text>
<text transform="translate(106.80,990.89) rotate(-90) scale(0.9148,1)" style="font-size:13.79px;" fill="#000" >f,CESi</text>
<rect x="145" y="1216" width="455" height="207.7" fill="#e5e5e5"/>
<text transform="translate(89.31,1230.75) scale(1.0525,1)" style="font-size:17.39px;font-weight:bold;" fill="#000" >Notes:</text>
<text transform="translate(153.57,1236.25) scale(1.0367,1)" style="font-size:17.24px;" fill="#000" >Level 3</text>
<text transform="translate(640.34,1251.00) scale(0.9270,1)" style="font-size:16.98px;font-weight:bold;" fill="#000" >x</text>
<text transform="translate(673.73,1251.00) scale(1.1746,1)" style="font-size:16.43px;font-weight:bold;" fill="#000" >0.3228</text>
<text transform="translate(640.34,1280.59) scale(0.9707,1)" style="font-size:16.22px;font-weight:bold;" fill="#000" >y</text>
<text transform="translate(673.73,1280.50) scale(1.2322,1)" style="font-size:15.71px;font-weight:bold;" fill="#000" >0.3450</text>
<text transform="translate(639.90,1310.80) scale(1.0740,1)" style="font-size:17.10px;font-weight:bold;" fill="#000" >u'</text>
<text transform="translate(673.23,1310.80) scale(1.1913,1)" style="font-size:16.14px;font-weight:bold;" fill="#000" >0.1988</text>
<text transform="translate(640.40,1340.80) scale(1.1138,1)" style="font-size:17.10px;font-weight:bold;" fill="#000" >v'</text>
<text transform="translate(672.24,1340.80) scale(1.1790,1)" style="font-size:16.14px;font-weight:bold;" fill="#000" >0.4781</text>
<rect x="771.7" y="1216.5" width="197.6" height="207.5" fill="none" stroke="#000" stroke-width="1.1"/>
<text transform="translate(806.54,1246.00) scale(1.1048,1)" style="font-size:17.14px;font-weight:bold;" fill="#000" >CIE 13.3–1995</text>
<text transform="translate(849.83,1275.70) scale(0.9741,1)" style="font-size:17.93px;font-weight:bold;" fill="#000" >(CRI)</text>
<text transform="translate(841.02,1306.00) scale(0.9231,1)" style="font-size:16.38px;font-weight:bold;" fill="#000" >R</text>
<text transform="translate(851.59,1314.00) scale(1.0093,1)" style="font-size:13.52px;font-weight:bold;" fill="#000" >a</text>
<text transform="translate(877.98,1306.00) scale(1.2748,1)" style="font-size:16.14px;font-weight:bold;" fill="#000" >67</text>
<text transform="translate(835.01,1336.00) scale(0.9328,1)" style="font-size:16.38px;font-weight:bold;" fill="#000" >R</text>
<text transform="translate(846.15,1343.57) scale(1.2362,1)" style="font-size:12.68px;font-weight:bold;" fill="#000" >9</text>
<text transform="translate(873.72,1336.00) scale(1.1965,1)" style="font-size:16.14px;font-weight:bold;" fill="#000" >–48</text>
<text transform="translate(388.44,1450.00) scale(1.1273,1)" style="font-size:16.83px;font-weight:bold;" fill="#000" >Colors are for visual orientation purposes only.</text>
</svg></body></html>
